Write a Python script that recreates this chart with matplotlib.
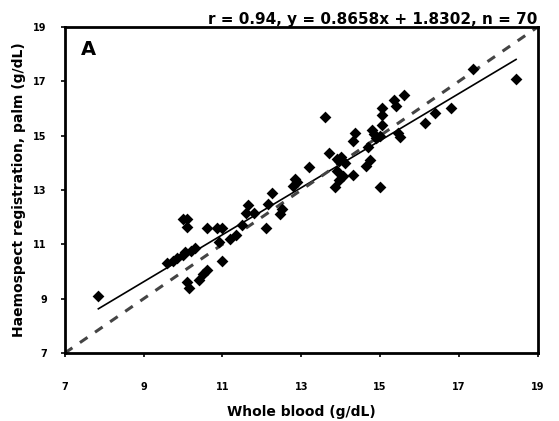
import matplotlib
matplotlib.use("Agg")
import matplotlib.pyplot as plt
import numpy as np

whole_blood = [7.85, 9.6, 9.75, 9.85, 10.0, 10.05, 10.3, 10.0, 10.1, 10.1,
               10.15, 10.1, 10.4, 10.5, 10.6, 11.0, 10.6, 10.85, 11.0, 10.9,
               11.35, 11.5, 11.6, 11.65, 11.8, 12.1, 12.15, 12.25, 12.45, 12.8,
               12.9, 12.85, 13.2, 13.6, 13.7, 13.9, 13.9, 13.95, 13.85, 14.05,
               14.3, 14.0, 14.35, 14.3, 14.7, 14.75, 14.65, 14.8, 15.0, 15.05,
               15.05, 15.05, 15.0, 15.4, 15.45, 15.5, 15.35, 15.6, 16.15, 16.4,
               16.8, 17.35, 18.45, 14.1, 13.95, 12.5, 14.9, 11.2, 10.2, 14.85]
palm = [9.1, 10.3, 10.4, 10.5, 10.6, 10.7, 10.85, 11.95, 11.95, 11.65,
        9.4, 9.6, 9.7, 9.9, 10.05, 10.4, 11.6, 11.6, 11.6, 11.1,
        11.35, 11.7, 12.15, 12.45, 12.15, 11.6, 12.5, 12.9, 12.1, 13.15,
        13.3, 13.4, 13.85, 15.7, 14.35, 14.15, 13.7, 13.35, 13.1, 13.5,
        13.55, 14.2, 15.1, 14.8, 14.6, 14.1, 13.9, 15.2, 15.0, 15.4,
        15.75, 16.0, 13.1, 16.1, 15.1, 14.95, 16.3, 16.5, 15.45, 15.85,
        16.0, 17.45, 17.1, 14.0, 14.05, 12.3, 14.9, 11.2, 10.75, 15.05]

slope = 0.8658
intercept = 1.8302
r_value = 0.94
n_points = 70
ticks = [7, 9, 11, 13, 15, 17, 19]

fig = plt.figure(figsize=(5.59, 4.21), dpi=100)
ax = fig.add_axes([0.116, 0.1615, 0.846, 0.7745])

ax.scatter(whole_blood, palm, marker='D', s=36, color='black', zorder=3, linewidths=0)

xs = np.array([min(whole_blood), max(whole_blood)])
ax.plot(xs, slope * xs + intercept, color='black', lw=1.2, zorder=2)
ax.plot([7, 19], [7, 19], color='#444444', lw=2.2, ls=(0, (3, 3)), zorder=2)

ax.set_xlim(7, 19)
ax.set_ylim(7, 19)
ax.set_xticks(ticks)
ax.set_yticks(ticks)
ax.set_xticklabels([str(t) for t in ticks], fontsize=7, fontweight='bold')
ax.set_yticklabels([str(t) for t in ticks], fontsize=7, fontweight='bold')
ax.tick_params(direction='out', length=3, width=1.2)
ax.tick_params(axis='x', pad=18)
ax.tick_params(axis='y', pad=10)
for s in ax.spines.values():
    s.set_linewidth(2)

ax.set_xlabel('Whole blood (g/dL)', fontsize=10, fontweight='bold', labelpad=9)
ax.set_ylabel('Haemospect registration, palm (g/dL)', fontsize=10, fontweight='bold', labelpad=5)
ax.text(0.035, 0.93, 'A', transform=ax.transAxes, fontsize=14, fontweight='bold', va='center')
ax.set_title(f'r = {r_value}, y = {slope}x + {intercept}, n = {n_points}', loc='right',
             fontsize=11, fontweight='bold', pad=2)

fig.savefig('out.png', dpi=100)
